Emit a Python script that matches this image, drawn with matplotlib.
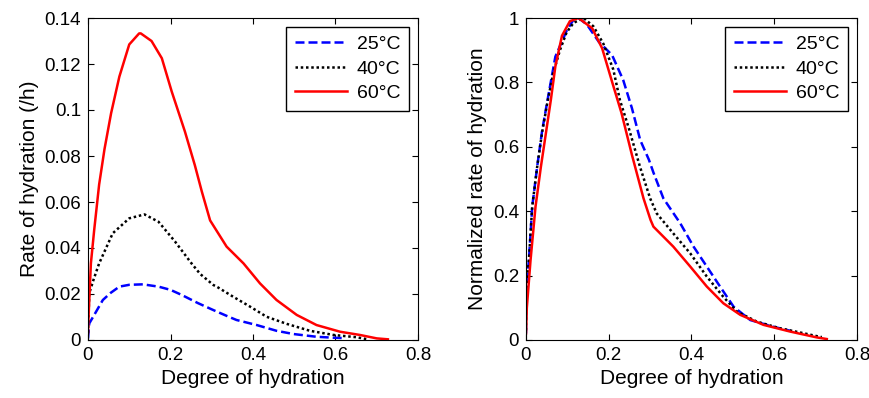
import numpy as np
import matplotlib
matplotlib.use('Agg')
import matplotlib.pyplot as plt

plt.rcParams['font.family'] = ['Liberation Sans', 'DejaVu Sans']

labels = ['25\u00b0C', '40\u00b0C', '60\u00b0C']

# Left panel: rate of hydration (/h) vs degree of hydration
x25 = [0.0, 0.003, 0.017, 0.036, 0.055, 0.076, 0.1, 0.133, 0.171, 0.2, 0.227, 0.267, 0.304,
       0.336, 0.36, 0.409, 0.457, 0.498, 0.554, 0.594, 0.623]
r25 = [0.0007, 0.0072, 0.0115, 0.0174, 0.0205, 0.0232, 0.0240, 0.0242, 0.0232, 0.0218, 0.0196,
       0.016, 0.013, 0.0105, 0.0087, 0.0065, 0.004, 0.0026, 0.0014, 0.001, 0.0008]

x40 = [0.0, 0.003, 0.013, 0.027, 0.06, 0.1, 0.137, 0.171, 0.211, 0.251, 0.272, 0.304,
       0.312, 0.352, 0.393, 0.433, 0.482, 0.538, 0.595, 0.651, 0.675]
r40 = [0.003, 0.0203, 0.026, 0.0333, 0.0464, 0.0529, 0.0546, 0.0514, 0.0428, 0.0333, 0.0287,
       0.0239, 0.0232, 0.0188, 0.0145, 0.0101, 0.007, 0.004, 0.0022, 0.0012, 0.0004]

x60 = [0.0, 0.001, 0.007, 0.015, 0.027, 0.04, 0.056, 0.076, 0.1, 0.124, 0.128, 0.154, 0.179,
       0.203, 0.235, 0.259, 0.276, 0.296, 0.336, 0.377, 0.417, 0.457, 0.506, 0.554, 0.611,
       0.659, 0.7, 0.727]
r60 = [0.003, 0.0087, 0.0333, 0.0478, 0.0676, 0.083, 0.0986, 0.1145, 0.1285, 0.1333, 0.1333,
       0.130, 0.1225, 0.108, 0.0906, 0.076, 0.0645, 0.052, 0.0406, 0.0333, 0.0246, 0.0174,
       0.0109, 0.0065, 0.0036, 0.0022, 0.0007, 0.0003]

# Right panel: normalized rate of hydration
nx25 = [0.0, 0.0, 0.007, 0.015, 0.027, 0.039, 0.052, 0.071, 0.098, 0.115, 0.127, 0.147, 0.176,
        0.208, 0.235, 0.256, 0.276, 0.297, 0.308, 0.332, 0.373, 0.405, 0.437, 0.469, 0.502,
        0.542, 0.598, 0.631, 0.64]
n25 = [0.02, 0.145, 0.248, 0.414, 0.538, 0.65, 0.745, 0.88, 0.96, 0.995, 1.0, 0.98, 0.926,
       0.885, 0.807, 0.72, 0.621, 0.56, 0.52, 0.44, 0.362, 0.29, 0.228, 0.166, 0.103,
       0.062, 0.041, 0.031, 0.028]

nx40 = [0.0, 0.0, 0.007, 0.015, 0.027, 0.039, 0.052, 0.066, 0.082, 0.098, 0.115, 0.139, 0.163,
        0.187, 0.211, 0.227, 0.248, 0.275, 0.3, 0.316, 0.356, 0.397, 0.437, 0.477, 0.51,
        0.558, 0.615, 0.671, 0.703, 0.715]
n40 = [0.03, 0.145, 0.248, 0.414, 0.538, 0.645, 0.74, 0.83, 0.9, 0.955, 0.985, 1.0, 0.974,
       0.92, 0.84, 0.745, 0.66, 0.54, 0.44, 0.393, 0.331, 0.269, 0.197, 0.134, 0.088,
       0.057, 0.036, 0.021, 0.012, 0.009]

nx60 = [0.0, 0.002, 0.011, 0.023, 0.036, 0.06, 0.071, 0.087, 0.106, 0.127, 0.16, 0.184,
        0.208, 0.231, 0.256, 0.284, 0.301, 0.308, 0.356, 0.397, 0.437, 0.477, 0.518, 0.574,
        0.639, 0.703, 0.727]
n60 = [0.02, 0.1, 0.248, 0.414, 0.538, 0.745, 0.85, 0.945, 0.99, 1.0, 0.968, 0.906,
       0.802, 0.704, 0.575, 0.44, 0.373, 0.352, 0.29, 0.228, 0.166, 0.114, 0.078, 0.047,
       0.026, 0.008, 0.003]

fig = plt.figure(figsize=(8.7, 3.98), dpi=100)
ax1 = fig.add_axes([88 / 870, 58 / 398, 330 / 870, 322 / 398])
ax2 = fig.add_axes([526 / 870, 58 / 398, 331 / 870, 322 / 398])

styles = [dict(color='blue', ls=(0, (3.6, 1.6))),
          dict(color='black', ls=(0, (1, 1.1))),
          dict(color='red', ls='-')]

for xs, ys, st, lab in zip([x25, x40, x60], [r25, r40, r60], styles, labels):
    ax1.plot(xs, ys, lw=1.8, label=lab, **st)
for xs, ys, st, lab in zip([nx25, nx40, nx60], [n25, n40, n60], styles, labels):
    ax2.plot(xs, ys, lw=1.8, label=lab, **st)

ax1.set_xlim(0, 0.8)
ax1.set_ylim(0, 0.14)
ax1.set_xticks([0, 0.2, 0.4, 0.6, 0.8])
ax1.set_xticklabels(['0', '0.2', '0.4', '0.6', '0.8'])
ax1.set_yticks([0, 0.02, 0.04, 0.06, 0.08, 0.1, 0.12, 0.14])
ax1.set_yticklabels(['0', '0.02', '0.04', '0.06', '0.08', '0.1', '0.12', '0.14'])
ax1.set_xlabel('Degree of hydration', fontsize=15)
ax1.set_ylabel('Rate of hydration (/h)', fontsize=15)

ax2.set_xlim(0, 0.8)
ax2.set_ylim(0, 1)
ax2.set_xticks([0, 0.2, 0.4, 0.6, 0.8])
ax2.set_xticklabels(['0', '0.2', '0.4', '0.6', '0.8'])
ax2.set_yticks([0, 0.2, 0.4, 0.6, 0.8, 1])
ax2.set_yticklabels(['0', '0.2', '0.4', '0.6', '0.8', '1'])
ax2.set_xlabel('Degree of hydration', fontsize=15)
ax2.set_ylabel('Normalized rate of hydration', fontsize=15)

for ax in (ax1, ax2):
    ax.tick_params(direction='in', top=True, right=True, length=4, labelsize=13.5, pad=5)
    for sp in ax.spines.values():
        sp.set_linewidth(0.8)
    leg = ax.legend(loc='upper right', fontsize=14, fancybox=False, edgecolor='black',
                    framealpha=1, handlelength=2.7, handletextpad=0.5, borderaxespad=0.45,
                    labelspacing=0.35, borderpad=0.45)
    leg.get_frame().set_linewidth(1.0)

fig.savefig('out.png', dpi=100)
